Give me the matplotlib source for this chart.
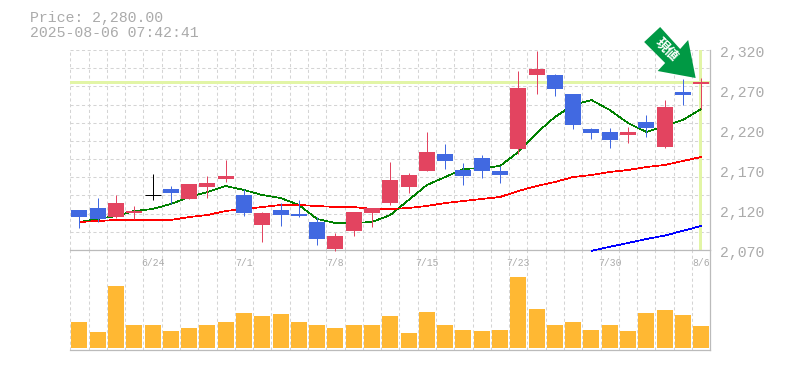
import matplotlib
matplotlib.use('Agg')
import numpy as np
from matplotlib import pyplot as plt
from matplotlib.patches import Polygon
from matplotlib.transforms import Affine2D

TITLE_LINES = ['Price: 2,280.00', '2025-08-06 07:42:41']
CURRENT_PRICE = 2280

opens = [2120, 2122.5, 2111, 2116, 2139, 2146, 2134, 2149, 2159, 2139, 2101, 2120, 2115, 2105, 2071, 2094, 2116, 2129,
         2149, 2169, 2190, 2170, 2185, 2169, 2196, 2289, 2289, 2265, 2221, 2217.5, 2214, 2230, 2199, 2267.5, 2277.5]
highs = [2120, 2135, 2139, 2125, 2165, 2150, 2152.5, 2162.5, 2182.5, 2146, 2117.5, 2129, 2132.5, 2111, 2091, 2117.5,
         2122.5, 2180, 2166, 2217.5, 2202.5, 2179, 2189, 2175, 2294, 2319, 2290, 2265, 2222.5, 2222.5, 2224, 2239,
         2257.5, 2284, 2285]
lows = [2098, 2105, 2110, 2109, 2132.5, 2127.5, 2134, 2135, 2155, 2112.5, 2080, 2100, 2111, 2076, 2069, 2087.5, 2099,
        2126, 2141, 2169, 2171, 2151, 2160, 2154, 2190, 2265, 2262.5, 2221, 2209, 2197.5, 2204, 2211, 2197.5, 2251,
        2246]
closes = [2111, 2109, 2128.75, 2119, 2139, 2141, 2152.5, 2154, 2162.5, 2116, 2116, 2114, 2112.5, 2084, 2087.5, 2117.5,
          2122.5, 2157.5, 2164, 2192.5, 2181, 2162.5, 2169, 2164, 2272.5, 2296, 2271, 2226, 2216, 2207.5, 2217.5,
          2222.5, 2249, 2264, 2280]

ma_green = [2105, 2108.75, 2112.5, 2118.75, 2121.25, 2127.5, 2136.25, 2142.5, 2150, 2145, 2138.75, 2135, 2126.25,
            2108.75, 2103.75, 2103.75, 2105, 2113.75, 2132.5, 2151.25, 2161.25, 2171.25, 2172.5, 2175, 2192.5,
            2216.25, 2236.25, 2251.25, 2257.5, 2245, 2228.75, 2217.5, 2225, 2232.5, 2246.25]
ma_red = [2105, 2106.25, 2107.5, 2107.5, 2107.5, 2107.5, 2111.25, 2113.75, 2118.75, 2121.25, 2123.75, 2126.25,
          2126.25, 2125, 2123.75, 2123.75, 2121.25, 2121.25, 2122.5, 2125, 2128.75, 2131.25, 2133.75, 2136.25,
          2143.75, 2150, 2155, 2161.25, 2163.75, 2167.5, 2170, 2173.75, 2176.25, 2181.25, 2186.25]
ma_blue_start = 28
ma_blue = [2069, 2074, 2078.75, 2083.75, 2088, 2094, 2100]

volumes = [26, 16, 62, 23, 23, 17, 20, 23, 26, 35, 32, 34, 26, 23, 20, 23, 23, 32, 15, 36, 23, 18, 17, 18, 71, 39,
           23, 26, 18, 23, 17, 35, 38, 33, 22]

date_ticks = [4, 9, 14, 19, 24, 29, 34]
date_labels = ['6/24', '7/1', '7/8', '7/15', '7/23', '7/30', '8/6']
price_ticks = [2320, 2270, 2220, 2170, 2120, 2070]
price_labels = ['2,320', '2,270', '2,220', '2,170', '2,120', '2,070']

UP = '#E34460'
DOWN = '#4169E1'
FLAT = '#000000'
MARK = '#E2F5A6'
GRID = '#D4D4D4'
AXIS = '#BBBBBB'
TEXT = '#ABABAB'
VOL = '#FFB833'
ARROW = '#009944'

W, H = 785, 370
LEFT, RIGHT, TOP, MID, BOTTOM = 70.3, 710.3, 50, 250, 350
MONO = 'Liberation Mono'

# arrow outline in pixels, relative to its tip
ARROW_SHAPE = [(-35.5, 51), (-51.5, 36), (-30.5, 15), (-38, 7), (0, 0), (-7.5, 38), (-15.5, 29)]


def axes_rect(top, bottom):
    return [LEFT / W, (H - bottom) / H, (RIGHT - LEFT) / W, (bottom - top) / H]


def style_axes(ax, n):
    ax.set_xlim(-0.5, n - 0.5)
    ax.set_xticks(np.arange(n) - 0.5, minor=True)
    ax.grid(True, which='minor', axis='x', color=GRID, lw=0.75, ls=(0, (3, 2.5)))
    ax.set_axisbelow(True)
    ax.tick_params(which='both', length=0)
    for side in ('left', 'top'):
        ax.spines[side].set_visible(False)
    for side in ('right', 'bottom'):
        ax.spines[side].set_color(AXIS)
        ax.spines[side].set_linewidth(0.9)
    ax.set_yticks([])


def draw_candles(ax, x):
    for i, o, h, l, c in zip(x, opens, highs, lows, closes):
        color = UP if c > o else DOWN if c < o else FLAT
        ax.vlines(i, l, h, color=color, lw=0.72, zorder=4, clip_on=False)
        if c == o:
            ax.hlines(c, i - 0.44, i + 0.44, color=color, lw=0.72, zorder=5)
        else:
            ax.bar(i, abs(c - o), bottom=min(o, c), width=0.875, color=color, zorder=5)


def main():
    fig = plt.figure(figsize=(W / 100, H / 100), dpi=100, facecolor='white')
    ax_vol = fig.add_axes(axes_rect(MID, BOTTOM), zorder=1)
    ax = fig.add_axes(axes_rect(TOP, MID), zorder=2)
    x = np.arange(len(closes))

    style_axes(ax, len(x))
    style_axes(ax_vol, len(x))

    ax.set_ylim(min(price_ticks), max(price_ticks))
    ax.set_yticks(np.linspace(2070, 2320, 12), minor=True)
    ax.grid(True, which='minor', axis='y', color=GRID, lw=0.75, ls=(0, (3, 2.5)))

    ax.axhline(CURRENT_PRICE, color=MARK, lw=2.16, zorder=2)
    ax.axvline(x[-1] - 0.05, color=MARK, lw=2.16, zorder=2)

    ax.plot(x, ma_green, color='#008000', lw=0.5, zorder=3, antialiased=False)
    ax.plot(x, ma_red, color='#FF0000', lw=0.5, zorder=3, antialiased=False)
    ax.plot(x[ma_blue_start:], ma_blue, color='#0000FF', lw=0.5, zorder=3, antialiased=False, clip_on=False)
    draw_candles(ax, x)

    ax.set_xticks(date_ticks)
    ax.set_xticklabels(date_labels, family=MONO, fontsize=7, color=TEXT)
    ax.tick_params(axis='x', which='major', pad=5.7)
    ax_vol.tick_params(axis='x', which='both', labelbottom=False)

    for value, label in zip(price_ticks, price_labels):
        ax.annotate(label, (1, value), xycoords=ax.get_yaxis_transform(), xytext=(7, -2.2),
                    textcoords='offset points', family=MONO, fontsize=10.7, color=TEXT,
                    ha='left', va='center', annotation_clip=False)

    ax_vol.bar(x, volumes, width=0.875, color=VOL, zorder=3)
    ax_vol.set_ylim(-2, 98)

    fig.text(30 / W, 1 - 18 / H, TITLE_LINES[0], family=MONO, fontsize=10.7, color=TEXT, va='center')
    fig.text(30 / W, 1 - 33 / H, TITLE_LINES[1], family=MONO, fontsize=10.7, color=TEXT, va='center')

    # the arrow hangs off the latest price
    fig.canvas.draw()
    px, py = ax.transData.transform((x[-1], CURRENT_PRICE))
    to_tip = Affine2D().translate(px - 5.5, py + 4)
    fig.add_artist(Polygon(ARROW_SHAPE, closed=True, facecolor=ARROW, edgecolor='none', transform=to_tip, zorder=6))
    tx, ty = to_tip.transform((-29, 28))
    fig.text(tx / W, ty / H, '現値', family=['Noto Sans CJK JP', 'DejaVu Sans'], fontsize=9.5, weight='bold',
             color='white', rotation=-45, rotation_mode='anchor', ha='center', va='center', zorder=7)

    fig.savefig('out.png', dpi=100)


if __name__ == '__main__':
    main()
